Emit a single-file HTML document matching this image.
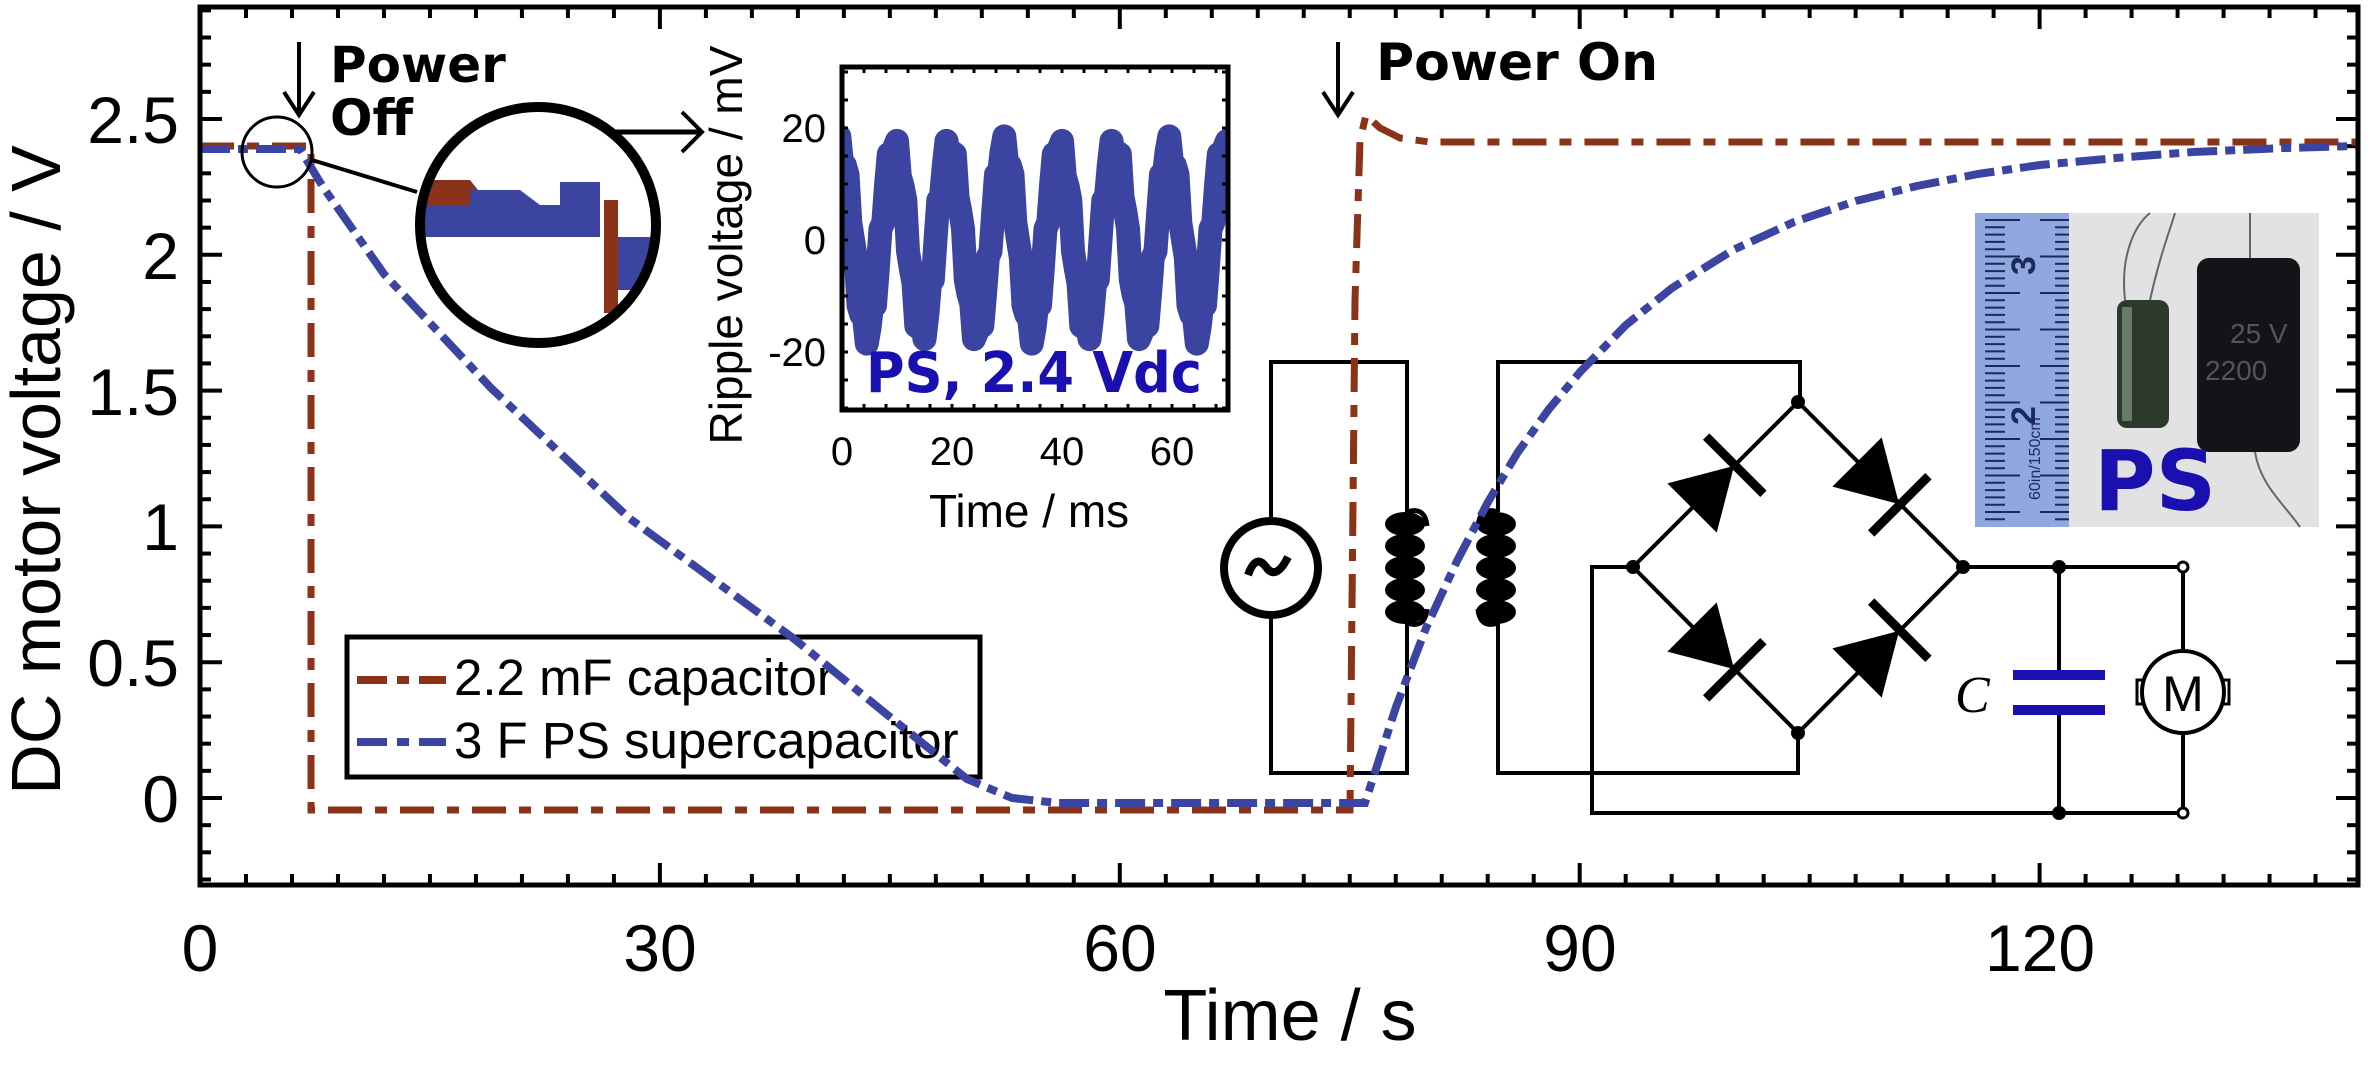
<!DOCTYPE html>
<html><head><meta charset="utf-8"><style>
html,body{margin:0;padding:0;background:#fff;}
svg{display:block;font-family:"Liberation Sans",sans-serif;}
</style></head><body>
<svg id="s" width="2370" height="1066" viewBox="0 0 2370 1066" xmlns="http://www.w3.org/2000/svg">
<rect width="2370" height="1066" fill="#fff"/>
<g id="ticks" stroke="#000" stroke-width="4"></g>

<!-- circuit -->
<g fill="none" stroke="#000" stroke-width="4">
  <path d="M1271,521 V362 H1407 V512 M1407,623 V773 H1271 V615"/>
  <path d="M1498,512 V362 H1800 V402 M1798,733 V773 H1498 V623"/>
  <path d="M1798,402 L1633,567 L1798,733 L1963,567 Z"/>
  <path d="M1633,567 H1592 V813 H2183 M1963,567 H2183 M2059,567 V675 M2059,710 V813 M2183,567 V651 M2183,733 V813"/>
</g>
<circle cx="1271" cy="568" r="47" fill="#fff" stroke="#000" stroke-width="8"/>
<path d="M1248,575 q8,-22 18,-8 t22,-10" fill="none" stroke="#000" stroke-width="8"/>
<g fill="#000">
  <ellipse cx="1405" cy="524" rx="20" ry="12"/><ellipse cx="1405" cy="546" rx="20" ry="12"/><ellipse cx="1405" cy="568" rx="20" ry="12"/><ellipse cx="1405" cy="590" rx="20" ry="12"/><ellipse cx="1405" cy="612" rx="20" ry="12"/>
  <ellipse cx="1496" cy="524" rx="20" ry="12"/><ellipse cx="1496" cy="546" rx="20" ry="12"/><ellipse cx="1496" cy="568" rx="20" ry="12"/><ellipse cx="1496" cy="590" rx="20" ry="12"/><ellipse cx="1496" cy="612" rx="20" ry="12"/>
</g>
<path d="M1407,512 q18,-6 20,14 M1407,623 q18,6 20,-14 M1498,512 q-18,-6 -20,14 M1498,623 q-18,6 -20,-14" fill="none" stroke="#000" stroke-width="5"/>
<!-- diodes -->
<g fill="#000" stroke="#000">
  <g transform="translate(1715,485) rotate(-45)"><path d="M-32,-34 L-32,34 L26,0 Z"/><rect x="24" y="-40" width="8" height="80"/></g>
  <g transform="translate(1880,485) rotate(45)"><path d="M-32,-34 L-32,34 L26,0 Z"/><rect x="24" y="-40" width="8" height="80"/></g>
  <g transform="translate(1715,650) rotate(45)"><path d="M-32,-34 L-32,34 L26,0 Z"/><rect x="24" y="-40" width="8" height="80"/></g>
  <g transform="translate(1880,650) rotate(-45)"><path d="M-32,-34 L-32,34 L26,0 Z"/><rect x="24" y="-40" width="8" height="80"/></g>
</g>
<g fill="#000"><circle cx="1798" cy="402" r="7"/><circle cx="1633" cy="567" r="7"/><circle cx="1963" cy="567" r="7"/><circle cx="1798" cy="733" r="7"/><circle cx="2059" cy="567" r="7"/><circle cx="2059" cy="813" r="7"/></g>
<g fill="#fff" stroke="#000" stroke-width="3"><circle cx="2183" cy="567" r="5"/><circle cx="2183" cy="813" r="5"/></g>
<rect x="2013" y="670" width="92" height="10" fill="#1a10b0"/>
<rect x="2013" y="705" width="92" height="10" fill="#1a10b0"/>
<text x="1955" y="712" font-family="Liberation Serif,serif" font-style="italic" font-size="52">C</text>
<rect x="2137" y="680" width="10" height="24" fill="#fff" stroke="#000" stroke-width="3"/>
<rect x="2219" y="680" width="10" height="24" fill="#fff" stroke="#000" stroke-width="3"/>
<circle cx="2183" cy="692" r="41" fill="#fff" stroke="#000" stroke-width="4"/>
<text x="2183" y="711" font-size="50" text-anchor="middle">M</text>

<!-- photo -->
<rect x="1975" y="213" width="344" height="314" fill="#d6d6d6"/>
<rect x="2069" y="213" width="250" height="314" fill="#e2e2e2"/>
<rect x="1975" y="213" width="94" height="314" fill="#8fa8e0"/>
<g id="ruler" stroke="#1b2a5a" stroke-width="2"></g>
<text transform="translate(2040,500) rotate(-90)" font-size="16" fill="#1b2a5a">60in/150cm</text>
<text transform="translate(2035,425) rotate(-90)" font-size="34" font-weight="bold" fill="#1b2a5a">2</text>
<text transform="translate(2035,275) rotate(-90)" font-size="34" font-weight="bold" fill="#1b2a5a">3</text>
<path d="M2125,300 C2120,255 2135,225 2150,213 M2150,300 C2160,255 2170,230 2175,213" stroke="#666" stroke-width="2" fill="none"/>
<rect x="2117" y="300" width="52" height="128" rx="10" fill="#2c3a2c"/>
<rect x="2122" y="307" width="10" height="114" fill="#6a7a6a"/>
<path d="M2250,258 V213 M2255,452 C2260,485 2285,505 2300,527" stroke="#666" stroke-width="2" fill="none"/>
<rect x="2197" y="258" width="103" height="194" rx="12" fill="#141418"/>
<text x="2230" y="343" font-size="28" fill="#555">25 V</text>
<text x="2205" y="380" font-size="28" fill="#555">2200</text>
<text x="2094" y="510" font-size="84" font-weight="bold" fill="#1a10b0" font-family="DejaVu Sans,sans-serif">PS</text>

<!-- legend -->
<rect x="347" y="637" width="633" height="140" fill="#fff" stroke="#000" stroke-width="5"/>
<line x1="357" y1="680" x2="446" y2="680" stroke="#8a3318" stroke-width="8" stroke-dasharray="30,10,12,10"/>
<line x1="357" y1="742" x2="446" y2="742" stroke="#3b44a0" stroke-width="8" stroke-dasharray="30,10,12,10"/>
<text x="454" y="695" font-size="51">2.2 mF capacitor</text>
<text x="454" y="758" font-size="51">3 F PS supercapacitor</text>

<!-- curves -->
<polyline fill="none" stroke="#8a3318" stroke-width="7" stroke-dasharray="34,13,12,13" points="200,146 311,146 311,810 1350,810 1355,300 1360,140 1366,115 1380,128 1400,138 1430,142 2356,142"/>
<polyline fill="none" stroke="#3b44a0" stroke-width="8" stroke-dasharray="30,8,10,8" points="200,149 300,149 323,187 384,274 491,388 629,518 793,638 890,717 967,779 1012,798 1058,803 1365,803 1396,707 1426,628 1457,561 1488,502 1518,452 1549,409 1580,372 1626,325 1672,288 1733,250 1794,222 1856,201 1917,186 1978,174 2040,165 2116,158 2193,152 2285,148 2356,146"/>

<!-- zoom circles -->
<circle cx="277" cy="152" r="35" fill="none" stroke="#000" stroke-width="3"/>
<line x1="312" y1="160" x2="417" y2="192" stroke="#000" stroke-width="4"/>
<clipPath id="bc"><circle cx="538" cy="225" r="118"/></clipPath>
<circle cx="538" cy="225" r="118" fill="#fff"/>
<g clip-path="url(#bc)">
  <path d="M410,180 H470 L490,205 H600 V237 H410 Z" fill="#8a3318"/>
  <path d="M410,205 H440 V237 H410 Z M470,190 H520 L540,205 H470 Z M560,182 H600 V205 H560 Z" fill="#3b44a0"/>
  <path d="M440,205 H600 V237 H440 Z" fill="#3b44a0"/>
  <rect x="604" y="200" width="14" height="113" fill="#8a3318"/>
  <rect x="618" y="237" width="40" height="53" fill="#3b44a0"/>
</g>
<circle cx="538" cy="225" r="118" fill="none" stroke="#000" stroke-width="10"/>
<line x1="609" y1="132" x2="700" y2="132" stroke="#000" stroke-width="5"/>
<path d="M682,112 L702,132 L682,152" fill="none" stroke="#000" stroke-width="4"/>

<!-- annotations -->
<g stroke="#000" stroke-width="4" fill="none">
  <path d="M299,42 V113 M284,92 L299,115 L314,92"/>
  <path d="M1338,42 V113 M1323,92 L1338,115 L1353,92"/>
</g>
<g font-family="DejaVu Sans,sans-serif" font-weight="bold" font-size="50">
  <text x="330" y="82">Power</text>
  <text x="330" y="135">Off</text>
  <text x="1376" y="80" font-size="52">Power On</text>
</g>

<!-- inset -->
<rect x="842" y="67" width="386" height="343" fill="#fff"/>
<clipPath id="ic"><rect x="842" y="67" width="386" height="343"/></clipPath>
<polyline id="rip" clip-path="url(#ic)" fill="none" stroke="#3b44a0" stroke-width="24" stroke-linejoin="round" points=""/>
<g id="iticks" stroke="#000" stroke-width="3"></g>
<rect x="842" y="67" width="386" height="343" fill="none" stroke="#000" stroke-width="5"/>
<text x="866" y="392" font-size="56" font-weight="bold" fill="#1a10b0" font-family="DejaVu Sans,sans-serif" textLength="336" lengthAdjust="spacingAndGlyphs">PS, 2.4 Vdc</text>
<g font-size="40" text-anchor="end"><text x="826" y="142">20</text><text x="826" y="254">0</text><text x="826" y="366">-20</text></g>
<g font-size="40" text-anchor="middle"><text x="842" y="465">0</text><text x="952" y="465">20</text><text x="1062" y="465">40</text><text x="1172" y="465">60</text></g>
<text x="929" y="527" font-size="46">Time / ms</text>
<text transform="translate(742,245) rotate(-90)" font-size="46" text-anchor="middle">Ripple voltage / mV</text>

<!-- frame -->
<rect x="200" y="7" width="2158" height="878" fill="none" stroke="#000" stroke-width="5"/>
<g font-size="66" text-anchor="end">
  <text x="179" y="822">0</text><text x="179" y="686">0.5</text><text x="179" y="550">1</text><text x="179" y="415">1.5</text><text x="179" y="279">2</text><text x="179" y="143">2.5</text>
</g>
<g font-size="66" text-anchor="middle">
  <text x="200" y="971">0</text><text x="660" y="971">30</text><text x="1120" y="971">60</text><text x="1580" y="971">90</text><text x="2040" y="971">120</text>
</g>
<text x="1290" y="1040" font-size="72" text-anchor="middle">Time / s</text>
<text transform="translate(60,470) rotate(-90)" font-size="70" text-anchor="middle">DC motor voltage / V</text>
</svg>
<script>
(function(){
var NS="http://www.w3.org/2000/svg",g=document.getElementById("ticks");
function L(p,x1,y1,x2,y2){var l=document.createElementNS(NS,"line");l.setAttribute("x1",x1);l.setAttribute("y1",y1);l.setAttribute("x2",x2);l.setAttribute("y2",y2);p.appendChild(l);}
for(var i=0;i<=47;i++){var t=i*3,x=200+15.33*t;if(x>2356)break;var len=(t%30==0)?22:11;L(g,x,885,x,885-len);L(g,x,7,x,7+len);}
for(var i=-3;i<=29;i++){var v=i/10,y=798-271.6*v;if(y>884||y<8)continue;var len=(i%5==0)?22:11;L(g,200,y,200+len,y);L(g,2358,y,2358-len,y);}
var ig=document.getElementById("iticks");
for(var ms=0;ms<=70;ms+=4){var x=842+5.5*ms;if(x>1226)break;L(ig,x,67,x,73);L(ig,x,410,x,404);}
for(var mv=-30;mv<=30;mv+=5){var y=240-5.6*mv;if(y<68||y>409)continue;L(ig,842,y,848,y);L(ig,1228,y,1222,y);}
var pts=[],k=0;for(var ms=-1;ms<=71;ms+=0.5){k++;var v=16.5*Math.sin(2*Math.PI*(ms-7)/10)+((k%3)-1)*2;pts.push((842+5.5*ms).toFixed(1)+","+(240-5.6*v).toFixed(1));}
document.getElementById("rip").setAttribute("points",pts.join(" "));
var r=document.getElementById("ruler");
for(var y=220;y<525;y+=7.3){var big=Math.round((y-220)/7.3)%5==0;L(r,1985,y,big?2020:2005,y);L(r,2069,y,big?2040:2055,y);}
})();
</script>
</body></html>
